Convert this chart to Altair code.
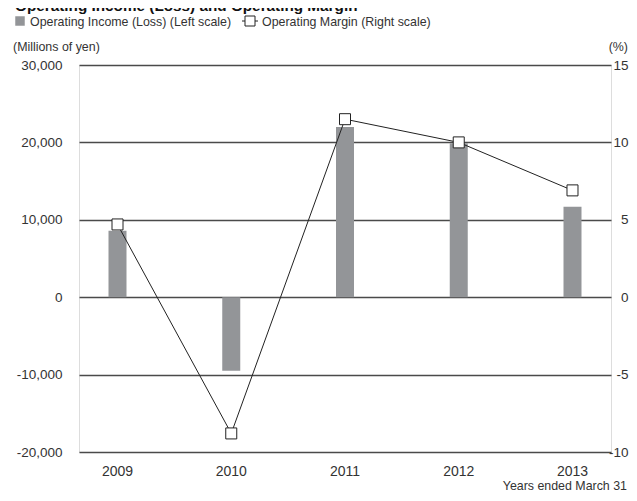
import altair as alt
import pandas as pd

years = ["2009", "2010", "2011", "2012", "2013"]
operating_income = [8600, -9500, 22000, 19900, 11700]
operating_margin = [4.7, -8.8, 11.5, 10.0, 6.9]
left_ticks = [-20000, -10000, 0, 10000, 20000, 30000]
right_ticks = [-10, -5, 0, 5, 10, 15]

FONT = "Liberation Sans, Arial, sans-serif"
TXT = "#333333"
BAR = "#939598"

df = pd.DataFrame({"year": years, "income": operating_income, "margin": operating_margin})
base = alt.Chart(df)

xscale = alt.Scale(paddingInner=0.5, paddingOuter=0.0885)
xaxis = alt.Axis(title=None, domain=False, ticks=False, labelFont=FONT, labelFontSize=14,
                 labelColor=TXT, labelPadding=12, labelAngle=0)

bars = base.mark_bar(color=BAR, size=18).encode(
    x=alt.X("year:N", scale=xscale, axis=xaxis),
    y=alt.Y("income:Q", scale=alt.Scale(domain=[-20000, 30000], nice=False),
            axis=alt.Axis(title=None, values=left_ticks, domain=False, ticks=False,
                          labelExpr="replace(format(datum.value, ',.0f'), '\u2212', '-')",
                          grid=True, gridColor="#4a4a4a", gridWidth=1.3,
                          labelFont=FONT, labelFontSize=13.5, labelColor=TXT, labelPadding=17)),
)

line = base.mark_line(color="#222222", strokeWidth=1,
                      point=alt.OverlayMarkDef(shape="square", filled=True, fill="white",
                                               stroke="#222222", strokeWidth=1, size=121, opacity=1)).encode(
    x=alt.X("year:N", scale=xscale, axis=xaxis),
    y=alt.Y("margin:Q", scale=alt.Scale(domain=[-10, 15], nice=False),
            axis=alt.Axis(title=None, orient="right", values=right_ticks, domain=False, ticks=False,
                          labelExpr="replace(format(datum.value, 'd'), '\u2212', '-')",
                          grid=False, labelFont=FONT, labelFontSize=13.5, labelColor=TXT,
                          labelAlign="right", labelPadding=17)),
)

one = alt.Data(values=[{"a": 1}])

def label(text, x, y, align="left", size=12.4, weight="normal", color=TXT):
    return alt.Chart(one).mark_text(text=text, align=align, baseline="alphabetic", fontSize=size,
                                    fontWeight=weight, color=color, font=FONT).encode(
        x=alt.value(x), y=alt.value(y))

title = label("Operating Income (Loss) and Operating Margin", -64, -54, size=15.3, weight="bold",
              color="#111111")
leg_sq = alt.Chart(one).mark_point(shape="square", filled=True, color=BAR, size=90, opacity=1).encode(
    x=alt.value(-59), y=alt.value(-44))
leg_t1 = label("Operating Income (Loss) (Left scale)", -49, -39.5)
leg_rule = alt.Chart(one).mark_rule(color="#222222", strokeWidth=1).encode(
    x=alt.value(163), x2=alt.value(179), y=alt.value(-44))
leg_pt = alt.Chart(one).mark_point(shape="square", filled=True, fill="white", stroke="#222222",
                                   strokeWidth=1, size=100, opacity=1).encode(
    x=alt.value(171), y=alt.value(-44))
leg_t2 = label("Operating Margin (Right scale)", 183, -39.5)
unit_l = label("(Millions of yen)", -66, -14)
unit_r = label("(%)", 549, -14, align="right")
foot = label("Years ended March 31", 548, 425, align="right")

chart = alt.layer(bars, line, title, leg_sq, leg_t1, leg_rule, leg_pt, leg_t2, unit_l, unit_r, foot).resolve_scale(
    y="independent"
).properties(
    width=532, height=387,
    autosize=alt.AutoSizeParams(type="none"),
    padding={"left": 71, "top": 57, "right": 18, "bottom": 41},
).configure_view(stroke=None).configure(background="white")

chart.save("out.html", embed_options={"renderer": "svg", "actions": False})
